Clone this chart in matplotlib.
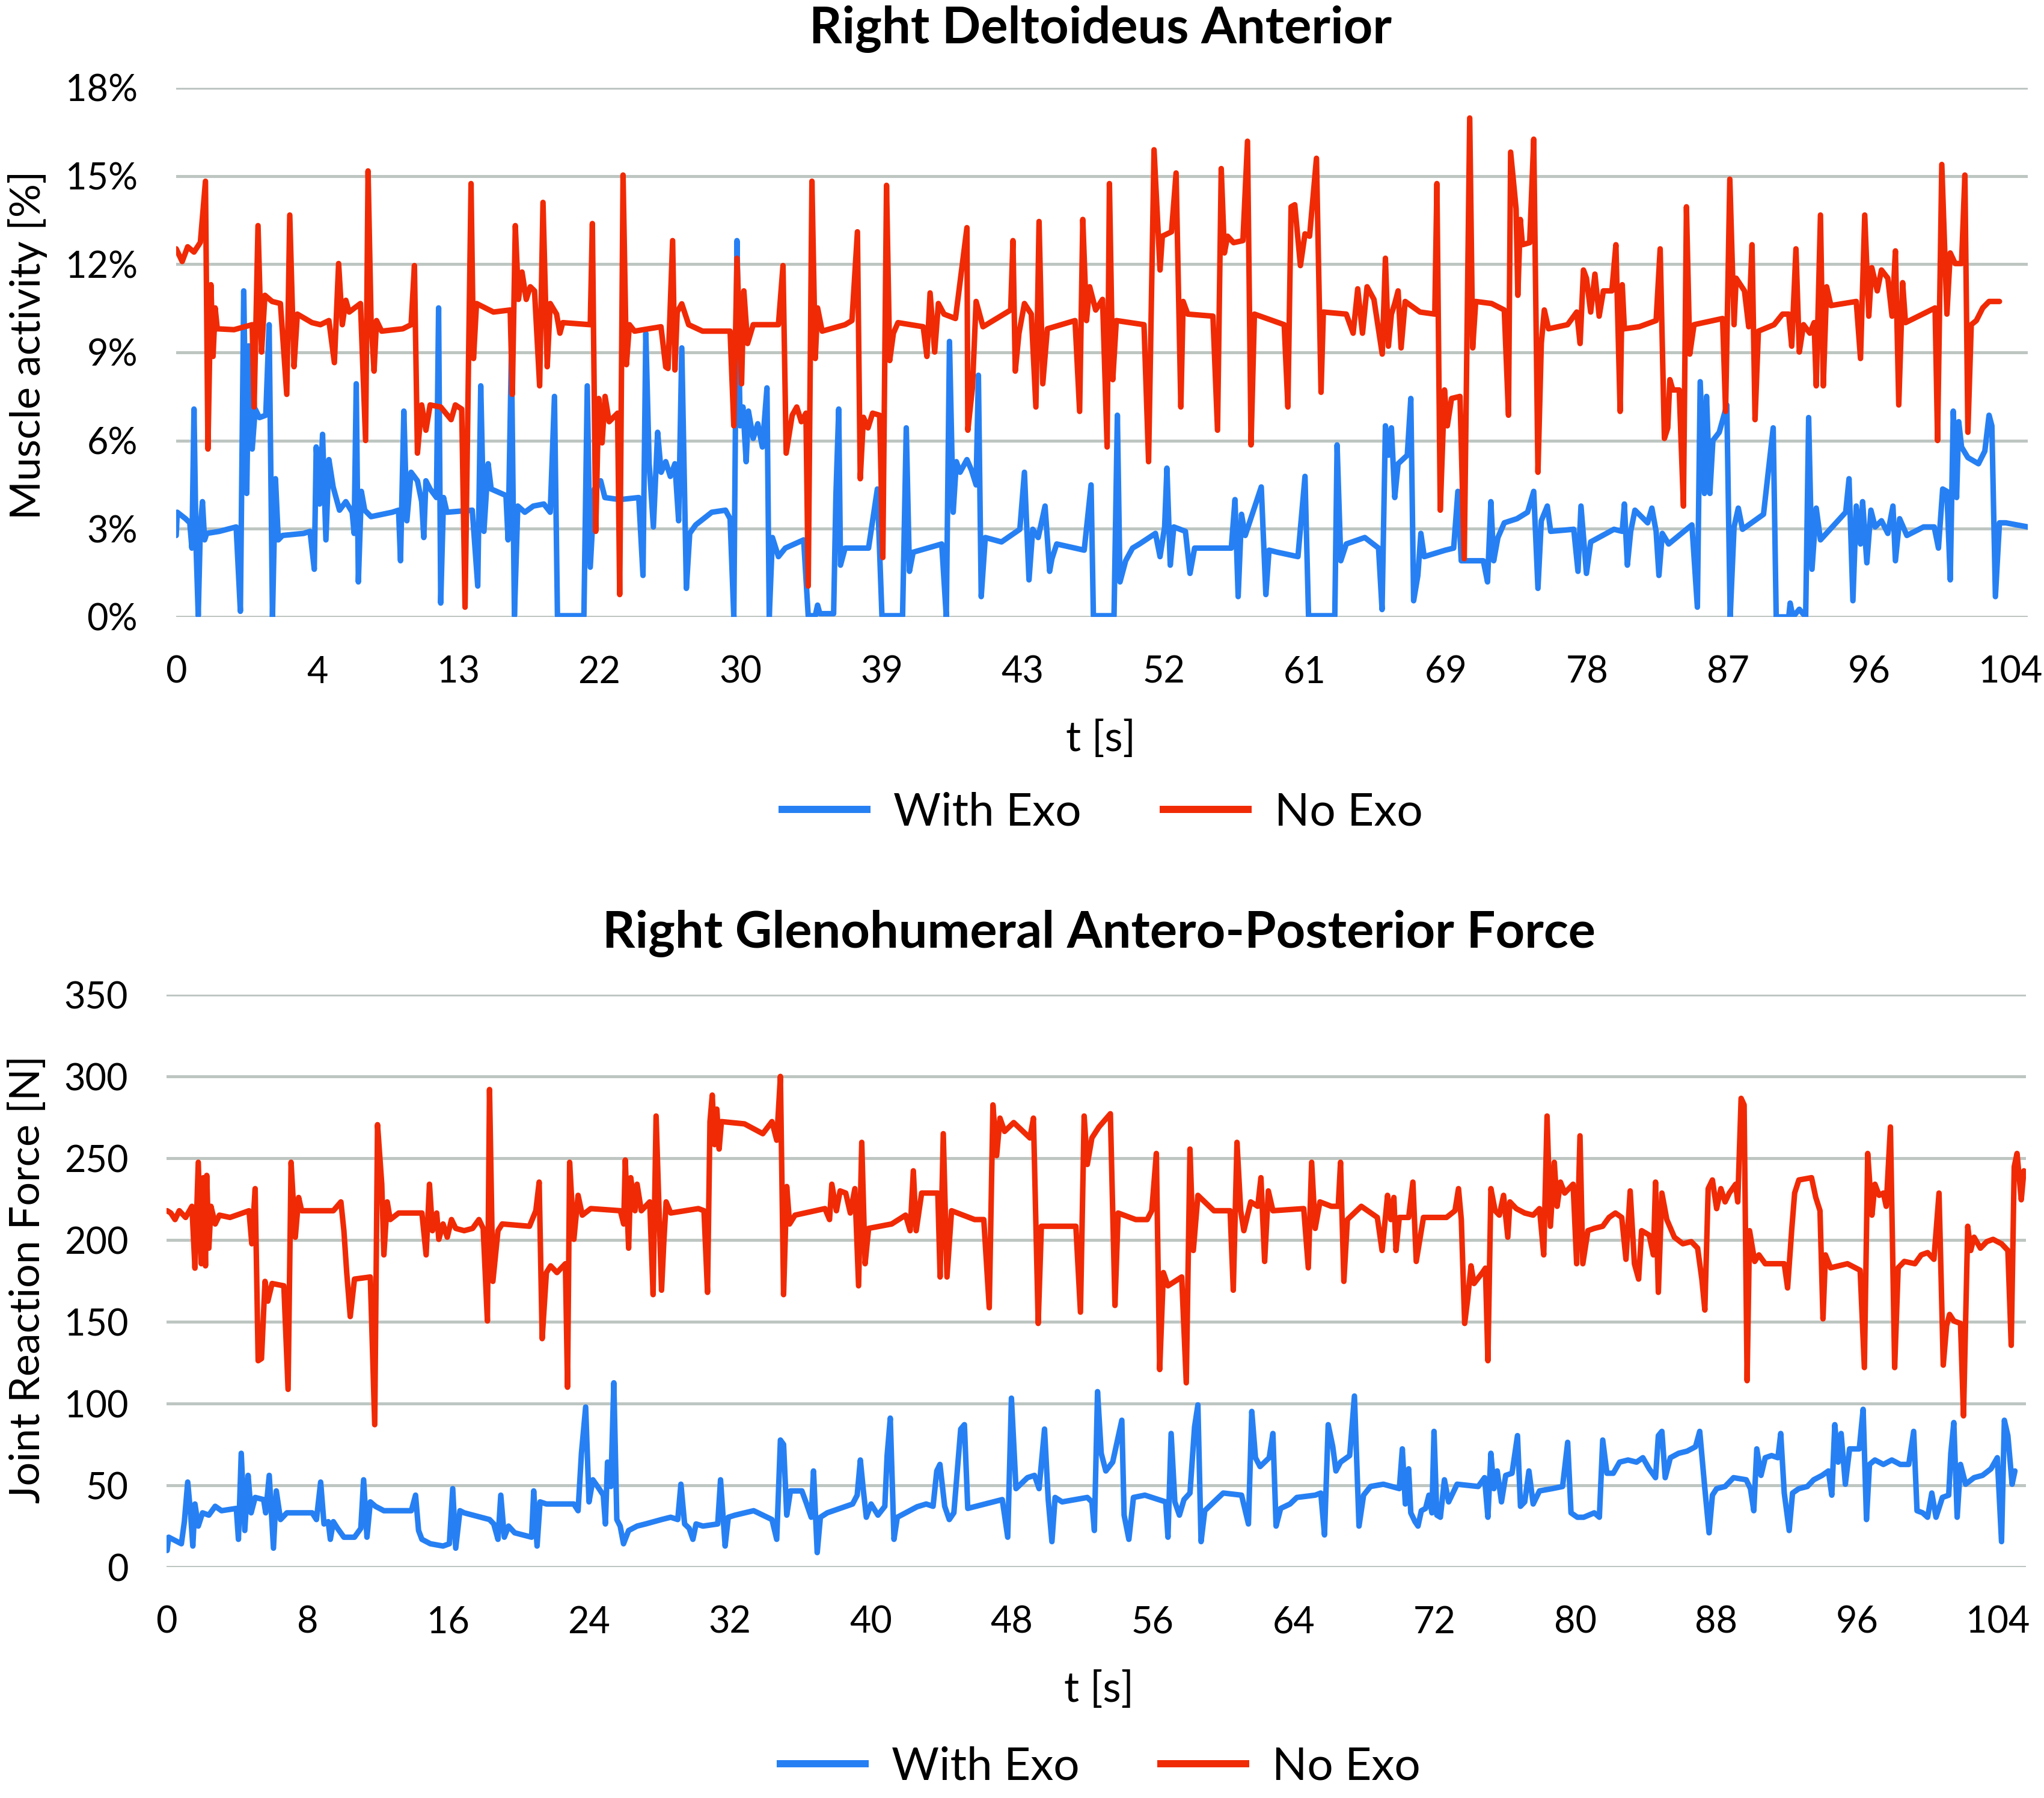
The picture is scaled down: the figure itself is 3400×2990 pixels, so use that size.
import matplotlib
matplotlib.use("Agg")
import matplotlib.pyplot as plt
from matplotlib.lines import Line2D
from matplotlib.ticker import FuncFormatter, MultipleLocator

plt.rcParams["font.family"] = ["Lato", "DejaVu Sans"]

BLUE = "#2680F3"
RED = "#F02A05"
GRID = "#BEC6C2"

# top chart: x is the position on the evenly spaced category axis
# (8 units between two labelled ticks), y is muscle activity in %
deltoid_tick_labels = ["0", "4", "13", "22", "30", "39", "43", "52",
                       "61", "69", "78", "87", "96", "104"]

deltoid_with_exo = [
    (0.0, 2.77), (0.06, 3.56), (0.53, 3.34), (0.77, 3.2), (0.89, 2.34), (1.01, 7.07),
    (1.13, 2.34), (1.25, 0.04), (1.37, 3.06), (1.49, 3.92), (1.61, 2.62), (1.73, 2.84),
    (2.45, 2.91), (3.4, 3.06), (3.64, 0.19), (3.83, 11.09), (4.0, 4.2), (4.12, 9.22),
    (4.31, 5.71), (4.48, 7.07), (4.72, 6.78), (5.08, 6.86), (5.27, 9.94), (5.46, 0.0),
    (5.63, 4.7), (5.79, 2.62), (6.03, 2.77), (7.23, 2.84), (7.59, 2.91), (7.83, 1.62),
    (7.94, 5.78), (8.13, 3.84), (8.3, 6.21), (8.49, 2.62), (8.66, 5.35), (8.9, 4.42),
    (9.26, 3.63), (9.62, 3.92), (9.98, 3.56), (10.09, 2.84), (10.21, 7.93), (10.33, 1.19),
    (10.5, 4.27), (10.69, 3.63), (11.05, 3.41), (12.25, 3.56), (12.61, 3.63), (12.72, 1.91),
    (12.91, 7.0), (13.08, 3.27), (13.32, 4.92), (13.68, 4.63), (13.92, 3.92), (14.04, 2.7),
    (14.16, 4.63), (14.4, 4.35), (14.76, 4.06), (14.88, 10.51), (15.0, 0.47), (15.16, 4.06),
    (15.35, 3.56), (16.79, 3.63), (17.1, 1.05), (17.27, 7.86), (17.45, 2.91), (17.69, 5.21),
    (17.86, 4.35), (18.7, 4.13), (18.82, 2.62), (19.01, 9.08), (19.18, 0.04), (19.37, 3.77),
    (19.77, 3.56), (20.25, 3.77), (20.85, 3.84), (21.21, 3.56), (21.45, 7.5), (21.62, 0.04),
    (23.12, 0.04), (23.31, 7.86), (23.48, 1.69), (23.72, 4.35), (24.07, 4.63), (24.31, 4.06),
    (25.15, 3.99), (26.23, 4.06), (26.47, 1.41), (26.63, 9.65), (26.82, 5.21), (27.06, 3.06),
    (27.3, 6.28), (27.5, 4.92), (27.76, 5.28), (28.02, 4.78), (28.28, 5.21), (28.49, 3.27),
    (28.67, 9.15), (28.93, 0.97), (29.12, 2.84), (29.46, 3.13), (30.37, 3.56), (31.15, 3.63),
    (31.41, 3.34), (31.62, 0.0), (31.8, 12.8), (31.98, 6.5), (32.14, 7.14), (32.32, 5.28),
    (32.45, 7.0), (32.72, 6.07), (32.98, 6.57), (33.24, 5.78), (33.5, 7.79), (33.63, 0.0),
    (33.81, 2.7), (34.15, 2.05), (34.54, 2.34), (35.58, 2.62), (35.84, 0.04), (36.24, 0.04),
    (36.37, 0.4), (36.5, 0.11), (37.28, 0.11), (37.41, 4.13), (37.57, 7.07), (37.67, 1.76),
    (37.93, 2.34), (39.26, 2.34), (39.76, 4.35), (40.02, 0.04), (41.19, 0.04), (41.4, 6.43),
    (41.58, 1.55), (41.79, 2.2), (43.41, 2.48), (43.67, 0.0), (43.85, 9.37), (44.06, 3.56),
    (44.24, 5.28), (44.45, 4.92), (44.84, 5.35), (45.1, 4.99), (45.36, 4.49), (45.49, 8.22),
    (45.65, 0.69), (45.88, 2.7), (46.8, 2.55), (47.84, 2.98), (48.1, 4.92), (48.36, 1.26),
    (48.57, 2.98), (48.88, 2.7), (49.27, 3.77), (49.53, 1.55), (49.66, 1.98), (49.93, 2.48),
    (51.49, 2.27), (51.88, 4.49), (52.01, 0.04), (53.18, 0.04), (53.37, 6.86), (53.52, 1.19),
    (53.84, 1.91), (54.23, 2.34), (54.62, 2.48), (55.53, 2.84), (55.79, 2.05), (56.05, 3.06),
    (56.18, 5.06), (56.37, 1.76), (56.57, 3.06), (57.23, 2.91), (57.49, 1.48), (57.75, 2.34),
    (59.83, 2.34), (60.04, 3.99), (60.22, 0.69), (60.41, 3.49), (60.62, 2.77), (61.53, 4.42),
    (61.79, 0.76), (61.97, 2.27), (62.44, 2.2), (63.61, 2.05), (64.01, 4.78), (64.21, 0.04),
    (65.7, 0.04), (65.83, 5.85), (66.04, 1.91), (66.35, 2.48), (67.4, 2.7), (68.18, 2.34),
    (68.38, 0.25), (68.57, 6.5), (68.74, 5.5), (68.91, 6.43), (69.1, 4.06), (69.29, 5.21),
    (69.81, 5.5), (70.01, 7.43), (70.17, 0.55), (70.41, 1.41), (70.58, 2.84), (70.77, 2.05),
    (71.97, 2.27), (72.44, 2.34), (72.68, 4.27), (72.87, 1.91), (74.12, 1.91), (74.36, 1.19),
    (74.55, 3.92), (74.71, 1.91), (74.95, 2.7), (75.31, 3.2), (76.03, 3.34), (76.63, 3.56),
    (76.98, 4.27), (77.22, 0.97), (77.41, 3.27), (77.75, 3.77), (77.94, 2.91), (79.25, 2.98),
    (79.49, 1.55), (79.66, 3.77), (79.97, 1.48), (80.21, 2.55), (81.53, 2.98), (82.0, 2.91),
    (82.12, 3.84), (82.29, 1.76), (82.48, 2.91), (82.72, 3.63), (83.44, 3.2), (83.68, 3.7),
    (83.92, 2.91), (84.08, 1.41), (84.27, 2.84), (84.63, 2.48), (85.95, 3.13), (86.26, 0.33),
    (86.42, 8.0), (86.66, 4.2), (86.78, 7.5), (86.97, 4.2), (87.14, 6.0), (87.5, 6.28),
    (87.93, 7.21), (88.12, 0.0), (88.34, 3.06), (88.58, 3.7), (88.82, 2.98), (90.01, 3.49),
    (90.56, 6.43), (90.73, 0.0), (91.44, 0.0), (91.52, 0.47), (91.68, 0.0), (92.04, 0.26),
    (92.4, 0.0), (92.57, 6.78), (92.76, 1.62), (93.0, 3.7), (93.24, 2.62), (94.67, 3.56),
    (94.86, 4.7), (95.08, 0.55), (95.27, 3.77), (95.51, 2.48), (95.63, 3.92), (95.87, 1.84),
    (96.1, 3.63), (96.34, 3.06), (96.7, 3.27), (97.06, 2.84), (97.35, 3.77), (97.49, 1.91),
    (97.73, 3.34), (98.14, 2.77), (99.09, 3.06), (99.69, 3.06), (99.93, 2.34), (100.17, 4.35),
    (100.41, 4.27), (100.6, 1.26), (100.77, 7.0), (100.96, 4.06), (101.08, 6.64), (101.24, 5.78),
    (101.6, 5.42), (102.2, 5.21), (102.56, 5.64), (102.8, 6.86), (102.96, 6.5), (103.16, 0.69),
    (103.39, 3.2), (103.75, 3.2), (105.0, 3.06),
]

deltoid_no_exo = [
    (0.0, 12.52), (0.34, 12.09), (0.65, 12.59), (1.01, 12.41), (1.37, 12.74), (1.66, 14.82),
    (1.8, 5.71), (1.97, 11.3), (2.09, 8.86), (2.21, 10.51), (2.33, 9.8), (3.28, 9.77),
    (4.31, 9.94), (4.42, 7.14), (4.64, 13.31), (4.84, 9.01), (5.03, 10.94), (5.44, 10.73),
    (5.91, 10.66), (6.27, 7.57), (6.44, 13.67), (6.68, 8.51), (6.87, 10.3), (7.7, 10.01),
    (8.18, 9.94), (8.66, 10.08), (8.97, 8.65), (9.21, 12.02), (9.42, 9.94), (9.62, 10.77),
    (9.81, 10.37), (10.45, 10.66), (10.74, 6.0), (10.88, 15.17), (11.05, 10.08), (11.22, 8.36),
    (11.36, 10.08), (11.65, 9.72), (12.85, 9.8), (13.32, 9.94), (13.51, 11.95), (13.68, 5.57),
    (13.92, 7.21), (14.16, 6.35), (14.4, 7.21), (15.0, 7.14), (15.59, 6.71), (15.83, 7.21),
    (16.19, 7.07), (16.38, 0.33), (16.72, 14.74), (16.86, 8.79), (17.03, 10.66), (17.99, 10.37),
    (18.94, 10.44), (19.06, 7.57), (19.23, 13.31), (19.41, 10.8), (19.61, 11.73), (19.85, 10.8),
    (20.08, 11.23), (20.32, 11.09), (20.61, 7.86), (20.8, 14.1), (21.04, 8.51), (21.21, 10.66),
    (21.57, 10.3), (21.76, 9.65), (21.92, 10.01), (23.48, 9.94), (23.6, 13.38), (23.79, 2.91),
    (23.96, 7.43), (24.15, 5.92), (24.32, 7.5), (24.55, 6.64), (25.03, 6.93), (25.15, 0.76),
    (25.34, 15.03), (25.53, 8.58), (25.7, 9.94), (25.99, 9.72), (27.49, 9.87), (27.76, 8.5),
    (27.89, 8.45), (28.15, 12.8), (28.28, 8.4), (28.41, 10.37), (28.67, 10.65), (29.06, 9.94),
    (29.85, 9.72), (31.41, 9.72), (31.62, 6.5), (31.8, 12.2), (32.06, 7.93), (32.19, 11.09),
    (32.4, 9.3), (32.72, 9.94), (34.15, 9.94), (34.41, 11.95), (34.59, 5.57), (34.93, 6.86),
    (35.19, 7.14), (35.45, 6.64), (35.71, 6.93), (35.84, 1.05), (36.05, 14.82), (36.24, 8.79),
    (36.37, 10.51), (36.63, 9.72), (37.93, 9.94), (38.32, 10.08), (38.63, 13.1), (38.79, 4.7),
    (38.97, 6.79), (39.23, 6.43), (39.49, 6.93), (39.89, 6.86), (40.07, 2.02), (40.28, 14.68),
    (40.46, 8.72), (40.67, 9.65), (40.93, 10.01), (42.36, 9.87), (42.57, 8.86), (42.75, 11.02),
    (43.01, 9.01), (43.22, 10.66), (43.54, 10.3), (44.19, 10.15), (44.84, 13.24), (44.89, 6.35),
    (45.15, 7.79), (45.36, 10.73), (45.75, 9.87), (47.32, 10.44), (47.45, 12.8), (47.58, 8.36),
    (47.79, 9.65), (48.1, 10.66), (48.49, 10.3), (48.75, 7.14), (48.93, 13.45), (49.14, 7.93),
    (49.4, 9.8), (50.97, 10.08), (51.23, 6.99), (51.41, 13.52), (51.62, 10.08), (51.8, 11.23),
    (52.14, 10.44), (52.53, 10.8), (52.79, 5.78), (52.92, 14.74), (53.11, 8.07), (53.31, 10.08),
    (54.88, 9.94), (55.14, 5.28), (55.45, 15.89), (55.79, 11.8), (55.92, 12.95), (56.44, 13.1),
    (56.7, 15.1), (56.97, 7.14), (57.1, 10.73), (57.36, 10.3), (58.79, 10.23), (59.05, 6.35),
    (59.26, 15.25), (59.44, 12.38), (59.62, 12.95), (59.96, 12.73), (60.49, 12.8), (60.75, 16.18),
    (60.95, 5.85), (61.14, 10.3), (62.83, 9.94), (63.04, 7.14), (63.22, 13.95), (63.43, 14.02),
    (63.75, 11.95), (64.01, 13.03), (64.27, 12.95), (64.66, 15.6), (64.92, 7.64), (65.05, 10.37),
    (66.35, 10.3), (66.74, 9.65), (67.0, 11.16), (67.27, 9.65), (67.53, 11.23), (67.92, 10.8),
    (68.39, 8.94), (68.57, 12.2), (68.74, 9.21), (68.91, 10.3), (69.1, 10.66), (69.29, 11.09),
    (69.46, 9.15), (69.69, 10.73), (70.53, 10.37), (71.37, 10.3), (71.49, 14.74), (71.68, 3.63),
    (71.92, 7.72), (72.08, 6.5), (72.32, 7.43), (72.8, 7.5), (73.04, 1.98), (73.35, 16.97),
    (73.52, 9.15), (73.69, 10.73), (74.59, 10.66), (75.31, 10.44), (75.55, 6.86), (75.67, 15.81),
    (75.98, 13.88), (76.08, 10.94), (76.22, 13.52), (76.34, 12.66), (76.75, 12.73), (76.98, 16.25),
    (77.22, 4.92), (77.41, 9.3), (77.58, 10.44), (77.82, 9.8), (78.9, 9.94), (79.42, 10.37),
    (79.61, 9.3), (79.8, 11.8), (79.97, 11.52), (80.21, 10.37), (80.45, 11.66), (80.69, 10.23),
    (80.93, 11.09), (81.41, 11.09), (81.64, 12.66), (81.88, 6.99), (82.0, 11.3), (82.12, 9.8),
    (82.96, 9.87), (83.92, 10.08), (84.15, 12.52), (84.39, 6.07), (84.58, 6.43), (84.7, 8.07),
    (84.87, 7.72), (85.23, 7.72), (85.47, 3.77), (85.64, 13.95), (85.83, 8.94), (86.07, 9.94),
    (87.69, 10.15), (87.86, 6.99), (88.1, 14.89), (88.34, 9.94), (88.46, 11.52), (88.93, 11.09),
    (89.17, 9.87), (89.36, 12.66), (89.53, 6.71), (89.72, 9.72), (90.61, 9.94), (91.09, 10.3),
    (91.44, 10.3), (91.61, 9.21), (91.85, 12.52), (92.04, 9.01), (92.28, 9.94), (92.64, 9.65),
    (92.88, 10.01), (93.0, 7.86), (93.24, 13.67), (93.4, 7.86), (93.59, 11.23), (93.83, 10.59),
    (95.27, 10.73), (95.51, 8.79), (95.75, 13.67), (95.98, 10.23), (96.15, 11.88), (96.46, 11.09),
    (96.7, 11.8), (97.06, 11.52), (97.3, 10.23), (97.49, 12.45), (97.68, 7.21), (97.9, 11.37),
    (98.06, 10.01), (99.74, 10.51), (99.88, 6.0), (100.12, 15.39), (100.41, 10.3), (100.6, 12.38),
    (100.88, 12.02), (101.24, 12.02), (101.43, 15.03), (101.6, 6.28), (101.79, 9.94), (102.08, 10.08),
    (102.44, 10.51), (102.8, 10.73), (103.39, 10.73),
]

# bottom chart: x is time in s, y is joint reaction force in N
force_ticks = list(range(0, 105, 8))

force_with_exo = [
    (0.03, 10.2), (0.12, 18.3), (0.84, 14.3), (1.01, 27.8), (1.2, 52.0), (1.37, 31.8),
    (1.49, 12.9), (1.61, 38.6), (1.8, 25.1), (2.04, 33.2), (2.4, 31.8), (2.76, 37.2),
    (3.12, 34.5), (3.96, 35.9), (4.08, 17.0), (4.24, 69.6), (4.44, 22.4), (4.63, 56.1),
    (4.8, 33.2), (5.03, 42.6), (5.51, 41.3), (5.63, 33.2), (5.83, 56.1), (6.07, 11.6),
    (6.23, 46.6), (6.47, 29.1), (6.83, 33.2), (8.27, 33.2), (8.51, 29.1), (8.75, 52.0),
    (8.94, 26.4), (9.18, 27.8), (9.3, 17.0), (9.47, 27.8), (9.71, 23.7), (10.07, 18.3),
    (10.67, 18.3), (11.03, 23.7), (11.19, 53.4), (11.38, 18.3), (11.57, 39.9), (11.86, 37.2),
    (12.34, 34.5), (13.9, 34.5), (14.14, 44.0), (14.31, 22.4), (14.5, 17.0), (14.98, 14.3),
    (15.7, 12.9), (16.06, 14.3), (16.25, 48.0), (16.42, 11.6), (16.66, 34.5), (16.9, 33.2),
    (18.34, 29.1), (18.58, 26.4), (18.82, 17.0), (18.98, 44.0), (19.18, 18.3), (19.42, 25.1),
    (19.77, 21.0), (20.73, 18.3), (20.85, 46.6), (21.04, 12.9), (21.21, 39.9), (21.57, 38.6),
    (23.13, 38.6), (23.37, 34.5), (23.56, 69.6), (23.8, 97.9), (23.99, 39.9), (24.21, 53.4),
    (24.56, 48.0), (24.8, 44.0), (24.92, 26.4), (25.04, 64.2), (25.23, 49.3), (25.4, 112.7),
    (25.57, 29.1), (25.76, 25.1), (25.95, 14.3), (26.24, 22.4), (26.72, 25.1), (27.2, 26.4),
    (28.11, 29.1), (28.63, 30.5), (29.03, 29.1), (29.21, 50.7), (29.42, 26.4), (29.68, 23.7),
    (29.89, 17.0), (30.07, 26.4), (30.46, 25.1), (31.3, 26.4), (31.46, 53.4), (31.72, 12.9),
    (31.9, 30.5), (32.29, 31.8), (33.34, 34.5), (34.38, 29.1), (34.65, 17.0), (34.86, 77.7),
    (35.04, 75.0), (35.22, 31.8), (35.43, 46.6), (36.08, 46.6), (36.35, 38.6), (36.61, 30.5),
    (36.74, 58.8), (36.95, 8.9), (37.13, 30.5), (37.52, 33.2), (38.96, 38.6), (39.22, 44.0),
    (39.4, 65.5), (39.56, 48.0), (39.74, 30.5), (40.01, 38.6), (40.4, 31.8), (40.79, 37.2),
    (40.92, 68.2), (41.1, 91.1), (41.31, 17.0), (41.5, 30.5), (42.62, 36.9), (43.14, 38.6),
    (43.53, 37.2), (43.74, 58.8), (43.92, 62.8), (44.19, 37.2), (44.45, 29.1), (44.71, 33.2),
    (45.1, 84.4), (45.31, 87.1), (45.5, 35.9), (47.46, 41.3), (47.77, 18.3), (47.98, 103.3),
    (48.24, 48.0), (48.5, 50.7), (48.89, 54.7), (49.29, 56.1), (49.55, 48.0), (49.86, 84.4),
    (50.07, 41.3), (50.28, 15.6), (50.46, 42.6), (50.86, 39.9), (52.29, 42.6), (52.55, 39.9),
    (52.69, 22.4), (52.87, 107.3), (53.08, 69.6), (53.34, 58.8), (53.73, 64.2), (54.25, 89.8),
    (54.38, 31.8), (54.65, 17.0), (54.91, 42.6), (55.56, 44.0), (56.74, 39.9), (56.87, 18.3),
    (57.05, 81.7), (57.26, 39.9), (57.52, 31.8), (57.78, 41.3), (58.12, 45.3), (58.38, 85.7),
    (58.57, 99.2), (58.75, 15.6), (58.96, 34.5), (59.48, 39.9), (60.01, 45.3), (61.05, 44.0),
    (61.44, 26.4), (61.63, 95.2), (61.84, 66.9), (62.1, 61.5), (62.62, 66.9), (62.83, 81.7),
    (63.01, 25.1), (63.27, 35.9), (63.8, 38.6), (64.19, 42.6), (65.23, 44.0), (65.55, 45.3),
    (65.76, 19.7), (65.97, 87.1), (66.23, 73.6), (66.41, 58.8), (66.67, 64.2), (67.19, 68.2),
    (67.46, 104.6), (67.72, 25.1), (67.98, 44.0), (68.37, 49.3), (69.1, 50.7), (69.58, 49.3),
    (70.01, 48.0), (70.18, 72.3), (70.35, 38.6), (70.54, 60.1), (70.66, 33.2), (70.9, 27.8),
    (71.07, 25.1), (71.26, 34.5), (71.5, 35.9), (71.69, 44.0), (71.86, 33.2), (71.98, 83.0),
    (72.14, 31.8), (72.34, 30.5), (72.57, 53.4), (72.81, 39.9), (73.29, 50.7), (74.49, 49.3),
    (74.85, 54.7), (75.04, 30.5), (75.21, 69.6), (75.38, 48.0), (75.57, 58.8), (75.81, 39.9),
    (76.05, 56.1), (76.41, 57.4), (76.72, 80.4), (76.89, 37.2), (77.13, 39.9), (77.37, 58.8),
    (77.61, 38.6), (77.97, 46.6), (78.69, 48.0), (79.28, 49.3), (79.57, 76.3), (79.76, 33.2),
    (80.12, 30.5), (80.48, 30.5), (81.08, 33.2), (81.37, 30.5), (81.56, 77.7), (81.8, 57.4),
    (82.16, 57.4), (82.52, 64.2), (83.0, 65.5), (83.48, 64.2), (83.84, 66.9), (84.2, 60.1),
    (84.56, 54.7), (84.72, 80.4), (84.92, 83.0), (85.11, 54.7), (85.4, 66.9), (85.87, 69.6),
    (86.35, 70.9), (86.83, 73.6), (87.07, 83.0), (87.36, 48.0), (87.6, 21.0), (87.79, 44.0),
    (88.03, 48.0), (88.51, 49.3), (88.99, 54.7), (89.71, 53.4), (89.95, 48.0), (90.14, 34.5),
    (90.31, 72.3), (90.55, 56.1), (90.79, 66.9), (91.15, 68.2), (91.51, 66.9), (91.67, 81.7),
    (91.87, 45.3), (92.15, 22.4), (92.34, 45.3), (92.7, 48.0), (93.18, 49.3), (93.54, 53.4),
    (94.02, 56.1), (94.38, 58.8), (94.57, 44.0), (94.74, 87.1), (94.93, 64.2), (95.1, 81.7),
    (95.34, 50.7), (95.58, 72.3), (95.89, 72.3), (96.13, 72.3), (96.35, 96.5), (96.54, 29.1),
    (96.71, 62.8), (97.02, 65.5), (97.5, 62.8), (97.98, 65.5), (98.46, 62.8), (98.94, 62.8),
    (99.22, 83.0), (99.41, 34.5), (99.73, 33.2), (100.01, 30.5), (100.25, 45.3), (100.49, 30.5),
    (100.85, 42.6), (101.21, 44.0), (101.33, 69.6), (101.5, 88.4), (101.69, 30.5), (101.88, 62.8),
    (102.17, 50.7), (102.65, 54.7), (103.13, 56.1), (103.61, 60.1), (103.97, 66.9), (104.21, 15.6),
    (104.37, 89.8), (104.57, 80.4), (104.81, 50.7), (104.97, 58.8),
]

force_no_exo = [
    (0.03, 217.9), (0.24, 216.5), (0.48, 212.5), (0.72, 217.9), (1.08, 213.8), (1.44, 220.6),
    (1.61, 182.8), (1.8, 247.5), (1.97, 185.5), (2.09, 238.1), (2.21, 184.2), (2.28, 239.5),
    (2.4, 195.0), (2.52, 220.6), (2.76, 209.8), (3.0, 215.2), (3.6, 213.8), (4.32, 216.5),
    (4.68, 217.9), (4.84, 197.7), (5.03, 231.4), (5.2, 126.2), (5.39, 127.5), (5.59, 174.7),
    (5.75, 162.6), (5.99, 173.4), (6.66, 172.0), (6.9, 108.7), (7.07, 247.5), (7.31, 201.7),
    (7.5, 226.0), (7.67, 217.9), (9.47, 217.9), (9.9, 223.3), (10.07, 205.7), (10.23, 180.1),
    (10.43, 153.2), (10.67, 176.1), (11.57, 177.4), (11.82, 87.1), (11.98, 270.5), (12.22, 234.1),
    (12.34, 190.9), (12.53, 223.3), (12.7, 212.5), (13.18, 216.5), (14.5, 216.5), (14.74, 190.9),
    (14.93, 234.1), (15.1, 205.7), (15.34, 216.5), (15.46, 200.4), (15.7, 209.8), (15.94, 201.7),
    (16.18, 212.5), (16.42, 207.1), (16.9, 205.7), (17.38, 207.1), (17.74, 212.5), (17.98, 207.1),
    (18.22, 150.5), (18.34, 292.0), (18.53, 174.7), (18.82, 205.7), (19.06, 209.8), (20.61, 208.4),
    (20.97, 217.9), (21.16, 235.4), (21.33, 139.7), (21.57, 180.1), (21.81, 184.2), (22.17, 180.1),
    (22.65, 185.5), (22.77, 110.0), (22.89, 247.5), (23.13, 200.4), (23.37, 227.3), (23.61, 215.2),
    (24.09, 219.2), (25.77, 217.9), (25.96, 209.8), (26.05, 248.9), (26.24, 195.0), (26.36, 238.1),
    (26.6, 217.9), (26.72, 234.1), (26.96, 217.9), (27.44, 223.3), (27.63, 166.6), (27.8, 275.8),
    (28.11, 169.3), (28.24, 199.1), (28.37, 223.3), (28.63, 216.5), (30.2, 219.2), (30.52, 217.9),
    (30.72, 168.0), (30.86, 272.4), (30.99, 288.6), (31.12, 258.3), (31.25, 280.0), (31.38, 255.6),
    (31.51, 272.4), (32.82, 271.0), (33.86, 265.0), (34.38, 272.4), (34.65, 261.0), (34.86, 300.0),
    (35.04, 166.6), (35.22, 232.7), (35.38, 209.8), (35.69, 215.2), (37.39, 219.2), (37.65, 212.5),
    (37.78, 234.1), (38.04, 217.9), (38.25, 230.0), (38.57, 228.7), (38.83, 216.5), (39.09, 231.4),
    (39.3, 172.0), (39.48, 259.7), (39.67, 185.5), (39.87, 207.1), (41.18, 209.8), (41.97, 215.2),
    (42.23, 205.7), (42.41, 242.3), (42.57, 205.7), (42.88, 228.7), (43.8, 228.7), (43.93, 177.4),
    (44.11, 265.0), (44.32, 177.4), (44.58, 217.9), (45.89, 212.5), (46.41, 212.5), (46.72, 158.6),
    (46.93, 282.6), (47.14, 251.6), (47.33, 274.5), (47.59, 266.4), (48.11, 271.8), (49.03, 262.4),
    (49.23, 274.5), (49.5, 149.0), (49.68, 208.4), (51.64, 208.4), (51.9, 155.9), (52.11, 275.8),
    (52.29, 246.2), (52.55, 262.4), (52.95, 269.1), (53.6, 277.2), (53.86, 160.0), (54.04, 216.5),
    (55.04, 212.5), (55.69, 212.5), (55.95, 217.9), (56.21, 252.9), (56.4, 120.8), (56.61, 180.1),
    (56.87, 172.0), (57.65, 177.4), (57.91, 112.7), (58.12, 255.6), (58.31, 193.6), (58.57, 227.3),
    (59.48, 217.9), (60.4, 217.9), (60.58, 169.3), (60.79, 259.7), (61.0, 217.9), (61.18, 205.7),
    (61.57, 223.3), (61.97, 220.6), (62.15, 238.1), (62.36, 186.9), (62.57, 230.0), (62.83, 217.9),
    (64.58, 219.2), (64.84, 183.0), (65.03, 247.5), (65.23, 207.1), (65.5, 223.3), (66.15, 220.6),
    (66.54, 220.6), (66.67, 247.5), (66.86, 174.7), (67.06, 212.5), (67.85, 220.6), (68.76, 213.8),
    (69.03, 193.6), (69.22, 214.0), (69.34, 227.3), (69.53, 212.5), (69.7, 226.0), (69.82, 193.6),
    (70.01, 213.8), (70.54, 213.8), (70.78, 235.4), (70.97, 186.9), (71.38, 213.8), (72.69, 213.8),
    (73.17, 217.9), (73.37, 231.4), (73.53, 212.5), (73.72, 149.0), (73.89, 163.8), (74.08, 184.2),
    (74.25, 173.4), (74.73, 180.1), (74.9, 182.8), (75.04, 126.2), (75.21, 231.4), (75.45, 217.9),
    (75.69, 215.2), (75.93, 227.3), (76.17, 201.7), (76.29, 223.3), (76.65, 219.2), (77.13, 216.5),
    (77.61, 215.2), (77.97, 219.2), (78.21, 190.9), (78.4, 275.8), (78.59, 208.4), (78.81, 247.5),
    (78.97, 220.6), (79.16, 235.4), (79.4, 228.7), (79.88, 234.1), (80.08, 185.5), (80.27, 263.7),
    (80.43, 185.5), (80.72, 205.7), (81.08, 207.1), (81.56, 208.4), (81.92, 213.8), (82.28, 216.5),
    (82.64, 213.8), (82.88, 188.2), (83.12, 230.0), (83.36, 185.5), (83.6, 176.1), (83.77, 205.7),
    (84.2, 203.0), (84.44, 190.9), (84.56, 235.4), (84.72, 168.0), (84.92, 228.7), (85.2, 212.5),
    (85.63, 201.7), (86.11, 197.7), (86.59, 199.0), (86.95, 195.0), (87.19, 176.1), (87.36, 157.2),
    (87.55, 231.4), (87.79, 236.7), (88.03, 219.2), (88.27, 231.4), (88.51, 223.3), (88.75, 228.7),
    (89.11, 234.1), (89.23, 223.3), (89.42, 286.6), (89.59, 282.6), (89.76, 114.0), (89.9, 205.7),
    (90.19, 186.9), (90.43, 190.9), (90.79, 185.5), (91.87, 185.5), (92.06, 170.7), (92.3, 207.1),
    (92.46, 228.7), (92.7, 236.7), (93.42, 238.1), (93.66, 226.0), (93.9, 217.9), (94.07, 151.8),
    (94.21, 190.9), (94.5, 183.0), (95.46, 185.5), (96.18, 181.5), (96.42, 122.0), (96.61, 252.9),
    (96.85, 215.2), (97.02, 234.1), (97.26, 227.3), (97.5, 228.7), (97.66, 220.6), (97.9, 269.1),
    (98.14, 122.0), (98.34, 183.0), (98.69, 186.9), (99.29, 185.5), (99.65, 190.9), (100.01, 192.3),
    (100.37, 188.2), (100.66, 228.7), (100.9, 123.5), (101.09, 147.6), (101.26, 154.5), (101.5, 150.5),
    (101.88, 149.0), (102.05, 92.5), (102.29, 208.4), (102.46, 193.6), (102.65, 201.7), (103.01, 195.0),
    (103.37, 199.0), (103.73, 200.4), (104.21, 197.7), (104.57, 193.6), (104.76, 135.6), (104.93, 244.8),
    (105.09, 252.9), (105.33, 224.6), (105.48, 242.3), (105.6, 239.5),
]

LINE_W = 3.3
TICK_SIZE = 22
LABEL_SIZE = 25.2
TITLE_SIZE = 30.5


def style_axes(ax, ymax, ystep, xmax, ticks, tick_labels):
    ax.set_xlim(0, xmax)
    ax.set_ylim(0, ymax)
    ax.yaxis.set_major_locator(MultipleLocator(ystep))
    ax.set_xticks(ticks)
    ax.set_xticklabels(tick_labels)
    for side in ["top", "right", "left", "bottom"]:
        ax.spines[side].set_visible(False)
    ax.grid(axis="y", color=GRID, linewidth=1.8)
    ax.set_axisbelow(True)
    ax.tick_params(axis="both", length=0, labelsize=TICK_SIZE, colors="black")
    ax.tick_params(axis="x", pad=23)
    ax.tick_params(axis="y", pad=23)


def draw_series(ax, series, color):
    t, v = zip(*series)
    ax.plot(t, v, color=color, linewidth=LINE_W, solid_joinstyle="round",
            solid_capstyle="round")


def add_legend(fig, x, y):
    handles = [
        Line2D([], [], color=BLUE, linewidth=4.3, solid_capstyle="butt"),
        Line2D([], [], color=RED, linewidth=4.3, solid_capstyle="butt"),
    ]
    fig.legend(
        handles, ["With Exo", "No Exo"], loc="center", bbox_to_anchor=(x, y),
        ncol=2, frameon=False, fontsize=27.5, handlelength=2.0,
        handletextpad=0.5, columnspacing=1.7,
    )


fig = plt.figure(figsize=(17, 14.95), dpi=200)

ax1 = fig.add_axes([0.0862, 0.6569, 0.9059, 0.2943])
draw_series(ax1, deltoid_with_exo, BLUE)
draw_series(ax1, deltoid_no_exo, RED)
style_axes(ax1, 18, 3, 105.0, [8 * i for i in range(len(deltoid_tick_labels))],
           deltoid_tick_labels)
ax1.yaxis.set_major_formatter(FuncFormatter(lambda v, _: f"{v:.0f}%"))

ax2 = fig.add_axes([0.0815, 0.1284, 0.9097, 0.3184])
draw_series(ax2, force_with_exo, BLUE)
draw_series(ax2, force_no_exo, RED)
style_axes(ax2, 350, 50, 105.6, force_ticks, [str(v) for v in force_ticks])

fig.text(0.5385, 0.984, "Right Deltoideus Anterior", ha="center", va="center",
         fontsize=TITLE_SIZE, fontweight="bold")
fig.text(0.5375, 0.481, "Right Glenohumeral Antero-Posterior Force", ha="center",
         va="center", fontsize=TITLE_SIZE, fontweight="bold")

fig.text(0.0135, 0.808, "Muscle activity [%]", rotation=90, ha="center", va="center",
         fontsize=LABEL_SIZE)
fig.text(0.0135, 0.2884, "Joint Reaction Force [N]", rotation=90, ha="center",
         va="center", fontsize=LABEL_SIZE)

fig.text(0.5385, 0.589, "t [s]", ha="center", va="center", fontsize=LABEL_SIZE)
fig.text(0.5375, 0.0602, "t [s]", ha="center", va="center", fontsize=LABEL_SIZE)

add_legend(fig, 0.5385, 0.548)
add_legend(fig, 0.5375, 0.0174)

fig.savefig("out.png", dpi=200, facecolor="white")
